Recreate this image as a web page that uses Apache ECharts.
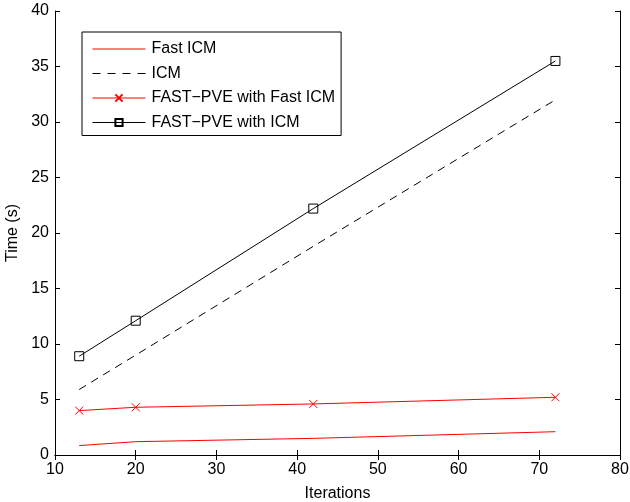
<!DOCTYPE html>
<html><head><meta charset="utf-8">
<script src="https://cdn.jsdelivr.net/npm/echarts@6/dist/echarts.min.js"></script>
<style>html,body{margin:0;padding:0;background:#fff}#c{width:630px;height:502px}</style>
</head><body><div id="c"></div>
<script>
const iterations = [13, 20, 42, 72];
const fastICM = [0.85, 1.2, 1.5, 2.1];
const icm = [5.9, 9.0, 18.8, 32.0];
const fastPveFastICM = [4.0, 4.3, 4.6, 5.2];
const fastPveICM = [8.9, 12.1, 22.2, 35.5];
const seriesNames = ['Fast ICM', 'ICM', 'FAST\u2212PVE with Fast ICM', 'FAST\u2212PVE with ICM'];
const xTicks = [10, 20, 30, 40, 50, 60, 70, 80];
const yTicks = [0, 5, 10, 15, 20, 25, 30, 35, 40];

const pairs = arr => iterations.map((x, i) => [x, arr[i]]);
const font = 'Liberation Sans, Arial, Helvetica, sans-serif';
const axisCommon = {
  type: 'value',
  axisLine: {show: true, lineStyle: {color: '#000', width: 1}},
  axisTick: {show: true, inside: true, length: 5, lineStyle: {color: '#000'}},
  splitLine: {show: false},
};
const solidIcon = 'path://M0,0L53,0L53,1L0,1Z';
const dashIcon = 'path://M0,0h8v1h-8zM15,0h8v1h-8zM30,0h8v1h-8zM45,0h8v1h-8z';
const chart = echarts.init(document.getElementById('c'));
chart.setOption({
  animation: false,
  backgroundColor: '#fff',
  grid: {left: 55, right: 10, top: 11, bottom: 47, outerBoundsMode: 'none', containLabel: false},
  xAxis: [
    Object.assign({}, axisCommon, {min: xTicks[0], max: xTicks[xTicks.length-1], interval: 10,
      name: 'Iterations', nameLocation: 'middle', nameGap: 31,
      nameTextStyle: {fontFamily: font, fontSize: 16, color: '#000'},
      axisLabel: {fontFamily: font, fontSize: 16, color: '#000', margin: 7}}),
    Object.assign({}, axisCommon, {position: 'top', min: xTicks[0], max: xTicks[xTicks.length-1], interval: 10,
      axisLabel: {show: false}})
  ],
  yAxis: [
    Object.assign({}, axisCommon, {min: yTicks[0], max: yTicks[yTicks.length-1], interval: 5,
      name: 'Time (s)', nameLocation: 'middle', nameGap: 34,
      nameTextStyle: {fontFamily: font, fontSize: 16, color: '#000'},
      axisLabel: {fontFamily: font, fontSize: 16, color: '#000', margin: 6}}),
    Object.assign({}, axisCommon, {position: 'right', min: yTicks[0], max: yTicks[yTicks.length-1], interval: 5,
      axisLabel: {show: false}})
  ],
  legend: {
    left: 82, top: 32, orient: 'vertical',
    backgroundColor: '#fff', borderColor: '#000', borderWidth: 1,
    padding: [9, 6, 5, 10], itemGap: 8.5, itemWidth: 53, itemHeight: 9,
    lineStyle: {width: 1},
    textStyle: {fontFamily: font, fontSize: 16, color: '#000', padding: [0, 0, 0, 1]},
    data: [
      {name: seriesNames[0], icon: solidIcon, itemStyle: {color: '#ff0000'}},
      {name: seriesNames[1], icon: dashIcon, itemStyle: {color: '#000'}},
      {name: seriesNames[2]},
      {name: seriesNames[3]}
    ]
  },
  series: [
    {name: seriesNames[0], type: 'line', data: pairs(fastICM), symbol: 'none',
      lineStyle: {color: '#ff0000', width: 1}, itemStyle: {color: '#ff0000'}},
    {name: seriesNames[1], type: 'line', data: pairs(icm), symbol: 'none',
      lineStyle: {color: '#000', width: 1, type: [8, 6]}, itemStyle: {color: '#000'}},
    {name: seriesNames[2], type: 'line', data: pairs(fastPveFastICM),
      symbol: 'path://M0,0L10,10M10,0L0,10', symbolSize: 8,
      lineStyle: {color: '#ff0000', width: 1},
      itemStyle: {color: '#ff0000', borderColor: '#ff0000', borderWidth: 1}},
    {name: seriesNames[3], type: 'line', data: pairs(fastPveICM),
      symbol: 'rect', symbolSize: 9,
      lineStyle: {color: '#000', width: 1},
      itemStyle: {color: 'rgba(0,0,0,0)', borderColor: '#000', borderWidth: 1}}
  ]
});
</script></body></html>
